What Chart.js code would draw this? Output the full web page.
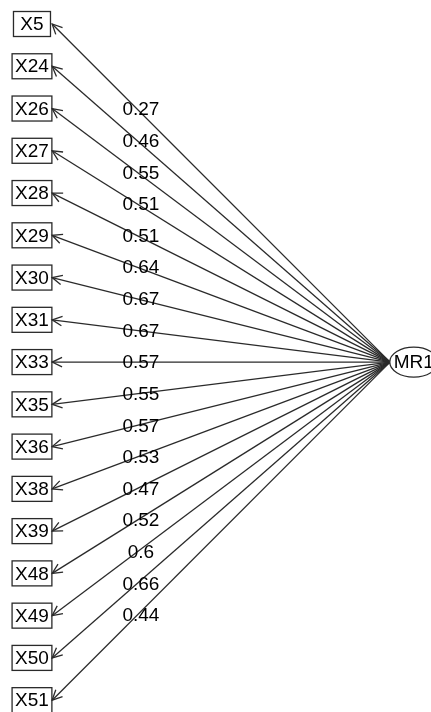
<!DOCTYPE html>
<html>
<head>
<meta charset="utf-8">
<script src="https://cdn.jsdelivr.net/npm/chart.js@4.4.1/dist/chart.umd.min.js"></script>
<style>
  html, body { margin: 0; padding: 0; background: #fff; }
  #wrap { width: 431px; height: 712px; position: relative; }
</style>
</head>
<body>
<div id="wrap"><canvas id="myChart"></canvas></div>
<script>
  // observed variables, top to bottom, and their loadings on the factor
  const variables = ["X5", "X24", "X26", "X27", "X28", "X29", "X30", "X31", "X33",
    "X35", "X36", "X38", "X39", "X48", "X49", "X50", "X51"];
  const loadings = [0.27, 0.46, 0.55, 0.51, 0.51, 0.64, 0.67, 0.67, 0.57,
    0.55, 0.57, 0.53, 0.47, 0.52, 0.6, 0.66, 0.44];
  const factorName = "MR1";

  // layout in axis units (x: 0..10, y: row index)
  const varX = 0.742;      // centre of the variable boxes
  const arrowEndX = 1.21;  // arrow tips at the box edge
  const factorX = 9.6;     // centre of the factor ellipse
  const factorEdgeX = 9.05;
  const factorY = (variables.length - 1) / 2;
  const labelX = 3.27;
  const labelT = 0.252;

  const FONT = '19px "Liberation Sans", Arial, sans-serif';
  const INK = "#2a2a2a";

  const datasets = variables.map((v, i) => ({
    label: v,
    data: [{ x: factorEdgeX, y: factorY }, { x: arrowEndX, y: i }],
    showLine: true,
    borderColor: INK,
    borderWidth: 1.3,
    pointRadius: 0,
    fill: false,
  }));

  const pathPlugin = {
    id: "pathDiagram",
    afterDatasetsDraw(chart) {
      const ctx = chart.ctx;
      const xs = chart.scales.x;
      const ys = chart.scales.y;
      ctx.save();
      ctx.font = FONT;
      ctx.textAlign = "center";
      ctx.textBaseline = "middle";
      ctx.lineWidth = 1.3;
      ctx.strokeStyle = INK;
      ctx.fillStyle = "#000";

      const fx = xs.getPixelForValue(factorEdgeX);
      const fy = ys.getPixelForValue(factorY);

      variables.forEach((v, i) => {
        const yp = ys.getPixelForValue(i);
        const cx = xs.getPixelForValue(varX);
        const w = ctx.measureText(v).width;
        const bw = Math.max(w + 6, 37);
        const bh = 25;
        ctx.strokeRect(cx - bw / 2, yp - bh / 2, bw, bh);
        ctx.fillText(v, cx, yp + 1);

        // arrow head
        const tx = xs.getPixelForValue(arrowEndX);
        const ang = Math.atan2(yp - fy, tx - fx);
        const L = 11;
        ctx.beginPath();
        ctx.moveTo(tx + L * Math.cos(ang + Math.PI - 0.45), yp + L * Math.sin(ang + Math.PI - 0.45));
        ctx.lineTo(tx, yp);
        ctx.lineTo(tx + L * Math.cos(ang + Math.PI + 0.45), yp + L * Math.sin(ang + Math.PI + 0.45));
        ctx.stroke();

        // loading label
        const ly = ys.getPixelForValue(i + labelT * (factorY - i));
        ctx.fillText(String(loadings[i]), xs.getPixelForValue(labelX), ly + 1);
      });

      // factor ellipse
      const ex = xs.getPixelForValue(factorX);
      ctx.beginPath();
      ctx.ellipse(ex, fy, 24, 15, 0, 0, Math.PI * 2);
      ctx.fillStyle = "#fff";
      ctx.fill();
      ctx.stroke();
      ctx.fillStyle = "#000";
      ctx.fillText(factorName, ex, fy + 1);
      ctx.restore();
    },
  };

  const config = {
    type: "scatter",
    data: { datasets: datasets },
    options: {
      responsive: true,
      maintainAspectRatio: false,
      animation: false,
      layout: { padding: 0 },
      plugins: { legend: { display: false }, tooltip: { enabled: false } },
      scales: {
        x: { type: "linear", min: 0, max: 10, display: false },
        y: { type: "linear", min: -0.568, max: 16.28, reverse: true, display: false },
      },
    },
    plugins: [pathPlugin],
  };

  new Chart(document.getElementById("myChart"), config);
</script>
</body>
</html>
